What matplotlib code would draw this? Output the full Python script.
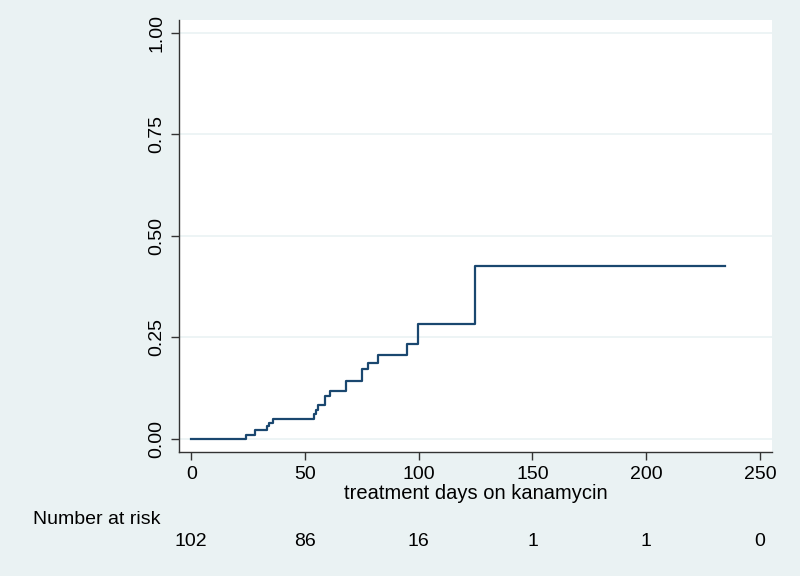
import numpy as np
import matplotlib.pyplot as plt

# Kaplan-Meier failure estimate
step_days = [0, 24.1, 28.2, 33.2, 34.0, 36.1, 53.8, 54.7, 55.9, 59.0, 61.0,
             67.9, 75.0, 77.9, 81.9, 94.9, 99.8, 124.9, 234.6]
step_fail = [0.0, 0.010, 0.021, 0.031, 0.040, 0.049, 0.061, 0.071, 0.084, 0.107,
             0.118, 0.144, 0.172, 0.188, 0.206, 0.235, 0.284, 0.427, 0.427]

risk_days = [0, 50, 100, 150, 200, 250]
risk_n = [102, 86, 16, 1, 1, 0]

x_ticks = [0, 50, 100, 150, 200, 250]
y_ticks = [0.0, 0.25, 0.5, 0.75, 1.0]

bg = '#eaf2f3'
navy = '#1a476f'
font = ['Liberation Sans', 'DejaVu Sans']
fs = 14

fig = plt.figure(figsize=(8, 5.76), dpi=100, facecolor=bg)
ax = fig.add_axes([0.224, 0.2153, 0.741, 0.75])
ax.set_facecolor('white')

ax.step(step_days, step_fail, where='post', color=navy, lw=1.6)

ax.set_xlim(-5.3, 255.3)
ax.set_ylim(-0.032, 1.032)
ax.set_xticks(x_ticks)
ax.set_yticks(y_ticks)
ax.set_yticklabels([f'{v:.2f}' for v in y_ticks], rotation=90, va='center',
                   family=font, fontsize=fs)
ax.set_xticklabels([str(v) for v in x_ticks], family=font, fontsize=fs)
ax.tick_params(direction='out', length=5.5, width=1, color='#333333', pad=4.5)
ax.grid(axis='y', color=bg, lw=1.2)
ax.set_axisbelow(True)

for s in ['top', 'right']:
    ax.spines[s].set_visible(False)
for s in ['left', 'bottom']:
    ax.spines[s].set_color('#333333')
    ax.spines[s].set_linewidth(1)

ax.set_xlabel('treatment days on kanamycin', family=font, fontsize=14.5, labelpad=1)

# Number at risk table
fig.text(33 / 800, 1 - 520 / 576, 'Number at risk', family=font, fontsize=fs,
         ha='left', va='center')
for d, n in zip(risk_days, risk_n):
    ax.annotate(str(n), xy=(d, 0), xycoords=('data', 'figure fraction'),
                xytext=(0, 576 - 541), textcoords='offset pixels',
                ha='center', va='center', family=font, fontsize=fs)

fig.savefig('out.png', dpi=100, facecolor=bg)
